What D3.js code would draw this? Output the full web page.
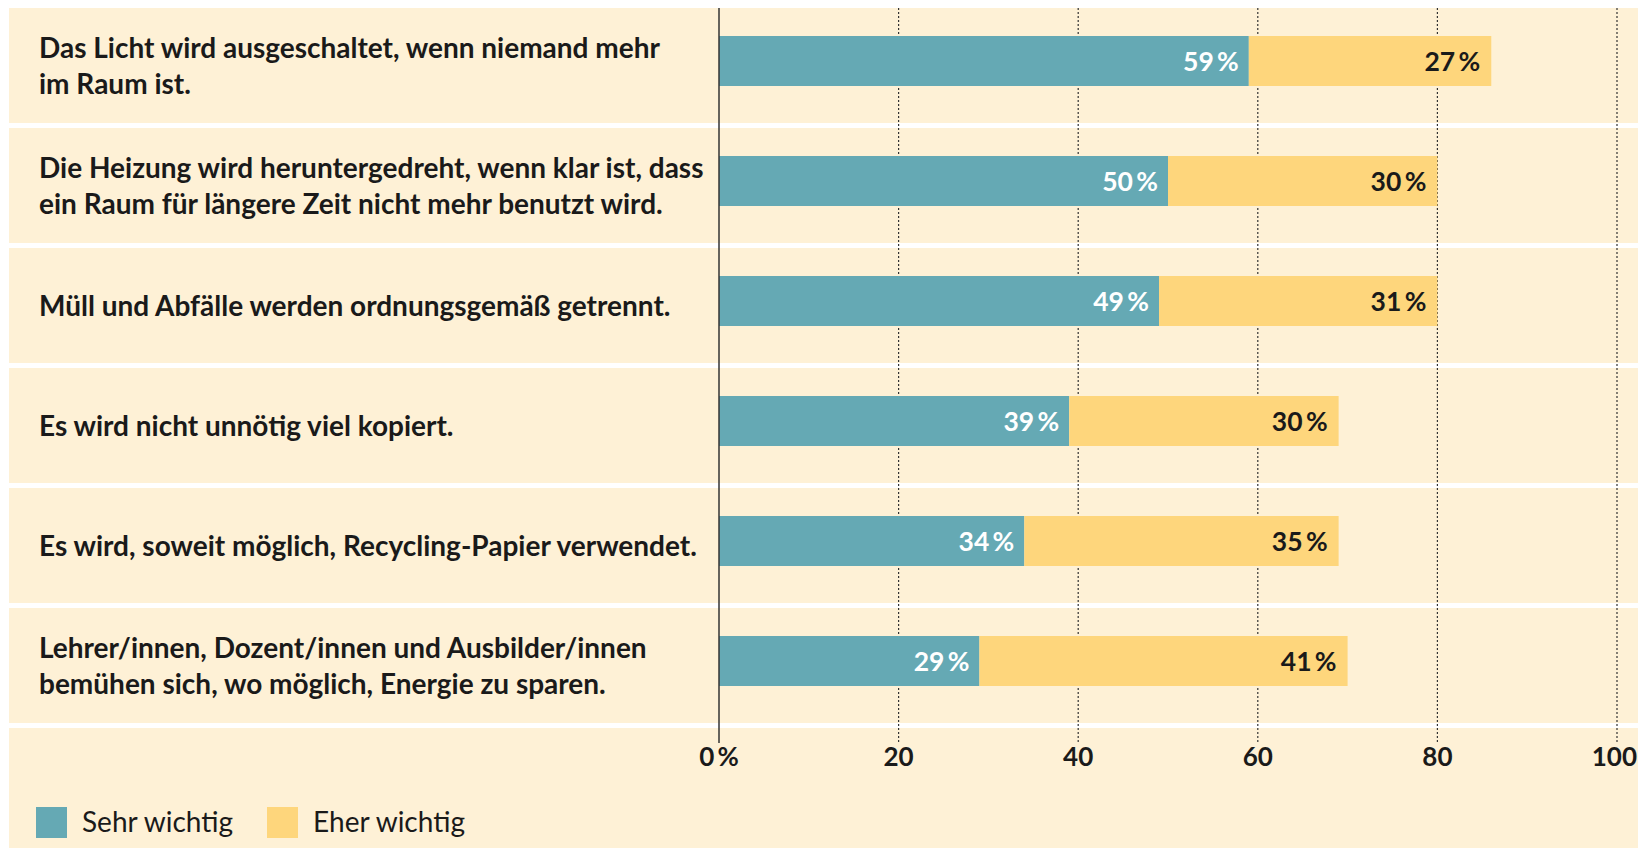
<!DOCTYPE html>
<html>
<head>
<meta charset="utf-8">
<script src="https://cdn.jsdelivr.net/npm/d3@7"></script>
<style>
  html, body { margin: 0; padding: 0; background: #ffffff; }
  svg { display: block; }
  text { font-family: Lato, "Noto Sans", sans-serif; }
</style>
</head>
<body>
<svg id="chart" width="1638" height="848"></svg>
<script>
const categories = [
  ["Das Licht wird ausgeschaltet, wenn niemand mehr", "im Raum ist."],
  ["Die Heizung wird heruntergedreht, wenn klar ist, dass", "ein Raum für längere Zeit nicht mehr benutzt wird."],
  ["Müll und Abfälle werden ordnungsgemäß getrennt."],
  ["Es wird nicht unnötig viel kopiert."],
  ["Es wird, soweit möglich, Recycling-Papier verwendet."],
  ["Lehrer/innen, Dozent/innen und Ausbilder/innen", "bemühen sich, wo möglich, Energie zu sparen."]
];
const sehrWichtig = [59, 50, 49, 39, 34, 29];
const eherWichtig = [27, 30, 31, 30, 35, 41];
const seriesNames = ["Sehr wichtig", "Eher wichtig"];
const tickValues = [0, 20, 40, 60, 80, 100];
const tickLabels = ["0\u2009%", "20", "40", "60", "80", "100"];

const colors = { sehr: "#65a9b4", eher: "#fed67c", panel: "#fef1d6", ink: "#1a1a1a" };

const svg = d3.select("#chart");
const W = 1638, H = 848;
const panelLeft = 9, panelTop = 8, rowGap = 5;

const x = d3.scaleLinear().domain([0, 100]).range([719, 1617]);
const y = d3.scaleBand().domain(d3.range(categories.length)).range([panelTop, 728]).paddingInner(0);
const step = y.step();
const barH = 50, barOffset = 28;

// panels
svg.append("g").selectAll("rect").data(d3.range(categories.length)).join("rect")
  .attr("x", panelLeft).attr("y", i => y(i))
  .attr("width", W - panelLeft).attr("height", step - rowGap)
  .attr("fill", colors.panel);
svg.append("rect").attr("x", panelLeft).attr("y", 728).attr("width", W - panelLeft).attr("height", H - 728).attr("fill", colors.panel);

// gridlines
const axisBottom = 743;
svg.append("g").selectAll("line").data(tickValues.filter(v => v > 0)).join("line")
  .attr("x1", d => x(d)).attr("x2", d => x(d))
  .attr("y1", panelTop).attr("y2", axisBottom)
  .attr("stroke", "#333").attr("stroke-width", 1.2).attr("stroke-dasharray", "2,2");

// bars
const rows = categories.map((c, i) => ({ i, a: sehrWichtig[i], b: eherWichtig[i] }));
const barG = svg.append("g");
barG.selectAll("rect.a").data(rows).join("rect").attr("class", "a")
  .attr("x", x(0)).attr("y", d => y(d.i) + barOffset)
  .attr("width", d => x(d.a) - x(0)).attr("height", barH).attr("fill", colors.sehr);
barG.selectAll("rect.b").data(rows).join("rect").attr("class", "b")
  .attr("x", d => x(d.a)).attr("y", d => y(d.i) + barOffset)
  .attr("width", d => x(d.a + d.b) - x(d.a)).attr("height", barH).attr("fill", colors.eher);

// value labels
barG.selectAll("text.a").data(rows).join("text").attr("class", "a")
  .attr("x", d => x(d.a) - 10).attr("y", d => y(d.i) + barOffset + barH / 2)
  .attr("dy", "0.36em").attr("text-anchor", "end")
  .attr("font-size", 26.5).attr("font-weight", 700).attr("fill", "#ffffff")
  .text(d => d.a + "\u2009%");
barG.selectAll("text.b").data(rows).join("text").attr("class", "b")
  .attr("x", d => x(d.a + d.b) - 11).attr("y", d => y(d.i) + barOffset + barH / 2)
  .attr("dy", "0.36em").attr("text-anchor", "end")
  .attr("font-size", 26.5).attr("font-weight", 700).attr("fill", colors.ink)
  .text(d => d.b + "\u2009%");

// axis line at 0
svg.append("line").attr("x1", x(0)).attr("x2", x(0)).attr("y1", panelTop).attr("y2", axisBottom)
  .attr("stroke", "#333").attr("stroke-width", 1.5);

// tick labels (kept inside the canvas at the right edge)
svg.append("g").selectAll("text").data(tickValues).join("text")
  .attr("x", d => x(d)).attr("y", 757).attr("dy", "0.36em")
  .attr("text-anchor", "middle").attr("font-size", 26).attr("font-weight", 700).attr("fill", colors.ink)
  .text((d, i) => tickLabels[i])
  .each(function(d) {
    const w = this.getComputedTextLength();
    const maxRight = W - 1;
    if (x(d) + w / 2 > maxRight) {
      d3.select(this).attr("text-anchor", "end").attr("x", maxRight);
    }
  });

// category labels
const lineH = 36;
const labG = svg.append("g");
categories.forEach((lines, i) => {
  const cy = y(i) + (step - rowGap) / 2;
  const t = labG.append("text").attr("x", 39).attr("font-size", 28).attr("font-weight", 700).attr("fill", colors.ink);
  lines.forEach((ln, k) => {
    t.append("tspan").attr("x", 39)
      .attr("y", cy + (k - (lines.length - 1) / 2) * lineH)
      .attr("dy", "0.36em").text(ln);
  });
});

// legend
const legend = [{ name: seriesNames[0], color: colors.sehr, x: 36 }, { name: seriesNames[1], color: colors.eher, x: 267 }];
const lg = svg.append("g");
lg.selectAll("rect").data(legend).join("rect")
  .attr("x", d => d.x).attr("y", 807).attr("width", 31).attr("height", 31).attr("fill", d => d.color);
lg.selectAll("text").data(legend).join("text")
  .attr("x", d => d.x + 46).attr("y", 822).attr("dy", "0.36em")
  .attr("font-size", 28).attr("fill", colors.ink)
  .text(d => d.name);
</script>
</body>
</html>
